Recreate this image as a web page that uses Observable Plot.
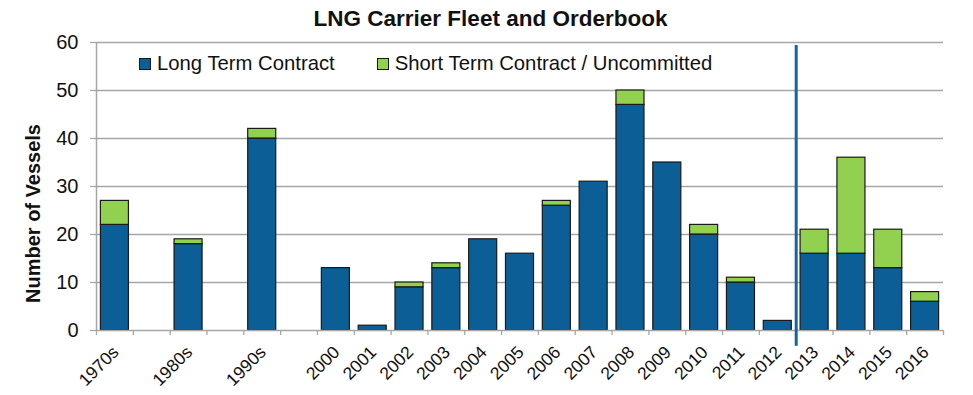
<!DOCTYPE html>
<html><head><meta charset="utf-8">
<script src="https://cdn.jsdelivr.net/npm/d3@7"></script>
<script src="https://cdn.jsdelivr.net/npm/@observablehq/plot@0.6"></script>
<style>
html,body{margin:0;padding:0;background:#fff;}
#wrap{position:relative;width:973px;height:395px;font-family:"Liberation Sans",Arial,sans-serif;color:#111;}
#title{position:absolute;top:8px;left:0;width:973px;box-sizing:border-box;padding-left:8px;line-height:22.5px;font-size:22.5px;font-weight:bold;text-align:center;}
#legend{position:absolute;top:53px;left:139px;font-size:20.3px;line-height:20px;white-space:nowrap;}
#legend span.item{display:inline-block;margin-right:42px;}
#legend span.sw{display:inline-block;width:10px;height:10px;border:1px solid #1a1a1a;margin-right:6px;vertical-align:baseline;}
#chart svg{display:block;}
</style></head><body>
<div id="wrap">
<div id="chart"></div>
<div id="title">LNG Carrier Fleet and Orderbook</div>
<div id="legend"></div>
</div>
<script>
const categories = ["1970s","gap1","1980s","gap2","1990s","gap3","2000","2001","2002","2003","2004","2005","2006","2007","2008","2009","2010","2011","2012","2013","2014","2015","2016"];
const tickLabels = ["1970s","","1980s","","1990s","","2000","2001","2002","2003","2004","2005","2006","2007","2008","2009","2010","2011","2012","2013","2014","2015","2016"];
const seriesNames = ["Long Term Contract","Short Term Contract / Uncommitted"];
const longTerm  = [22,0,18,0,40,0,13,1,9,13,19,16,26,31,47,35,20,10,2,16,16,13,6];
const shortTerm = [5,0,1,0,2,0,0,0,1,1,0,0,1,0,3,0,2,1,0,5,20,8,2];
const yTicks = [0,10,20,30,40,50,60];
const seriesColors = ["#0b5e96","#92d050"];
const dividerCategory = "2013";
const dividerExtent = [-3.3, 59.4];

const W = 973, H = 395, ML = 96, MR = 30, MT = 42, MB = 65;
const step = (W - ML - MR) / categories.length;

const rows = [];
categories.forEach((c, i) => {
  if (longTerm[i] > 0) rows.push({cat: c, series: seriesNames[0], value: longTerm[i]});
  if (shortTerm[i] > 0) rows.push({cat: c, series: seriesNames[1], value: shortTerm[i]});
});
const labelRows = categories.map((c, i) => ({cat: c, label: tickLabels[i]}));
const gridCol = "#a6a6a6";

const chart = Plot.plot({
  width: W, height: H,
  marginLeft: ML, marginRight: MR, marginTop: MT, marginBottom: MB,
  style: {fontFamily: '"Liberation Sans", Arial, sans-serif', color: "#111", background: "#fff"},
  x: {type: "band", domain: categories, padding: 0, round: false, axis: null},
  y: {domain: [0, 60], axis: null},
  color: {domain: seriesNames, range: seriesColors},
  marks: [
    Plot.gridY(yTicks.filter(d => d > 0), {stroke: gridCol, strokeOpacity: 1, strokeWidth: 1.3}),
    Plot.axisY({ticks: yTicks, tickSize: 6, tickPadding: 12, fontSize: 20, stroke: gridCol, strokeWidth: 1.3, label: null, tickFormat: d => d}),
    Plot.barY(rows, Plot.stackY({x: "cat", y: "value", fill: "series", stroke: "#1a1a1a", strokeWidth: 1.2, insetLeft: 4.4, insetRight: 4.4})),
    Plot.ruleY([0], {stroke: gridCol, strokeWidth: 1.5}),
    Plot.ruleX([categories[0]], {x: d => d, dx: -step / 2, stroke: gridCol, strokeWidth: 1.5}),
    Plot.ruleX(categories, {x: d => d, dx: -step / 2, insetTop: H - MT - MB, insetBottom: -5, stroke: gridCol, strokeWidth: 1.3}),
    Plot.ruleX([categories[categories.length - 1]], {x: d => d, dx: step / 2, insetTop: H - MT - MB, insetBottom: -5, stroke: gridCol, strokeWidth: 1.3}),
    Plot.ruleX([dividerCategory], {x: d => d, dx: -step / 2, y1: dividerExtent[0], y2: dividerExtent[1], stroke: "#1a62a0", strokeWidth: 3}),
    Plot.text(labelRows, {x: "cat", text: "label", frameAnchor: "bottom", rotate: -45, textAnchor: "end", lineAnchor: "top", dx: -4, dy: 14, fontSize: 17.5, fill: "#111"}),
    Plot.text(["Number of Vessels"], {frameAnchor: "left", textAnchor: "middle", rotate: -90, dx: -63, dy: 27, fontSize: 20, fontWeight: "bold", fill: "#111"})
  ]
});
document.getElementById("chart").appendChild(chart);

const legend = document.getElementById("legend");
seriesNames.forEach((s, i) => {
  const item = document.createElement("span");
  item.className = "item";
  const sw = document.createElement("span");
  sw.className = "sw";
  sw.style.background = seriesColors[i];
  item.appendChild(sw);
  item.appendChild(document.createTextNode(s));
  legend.appendChild(item);
});
</script>
</body></html>
